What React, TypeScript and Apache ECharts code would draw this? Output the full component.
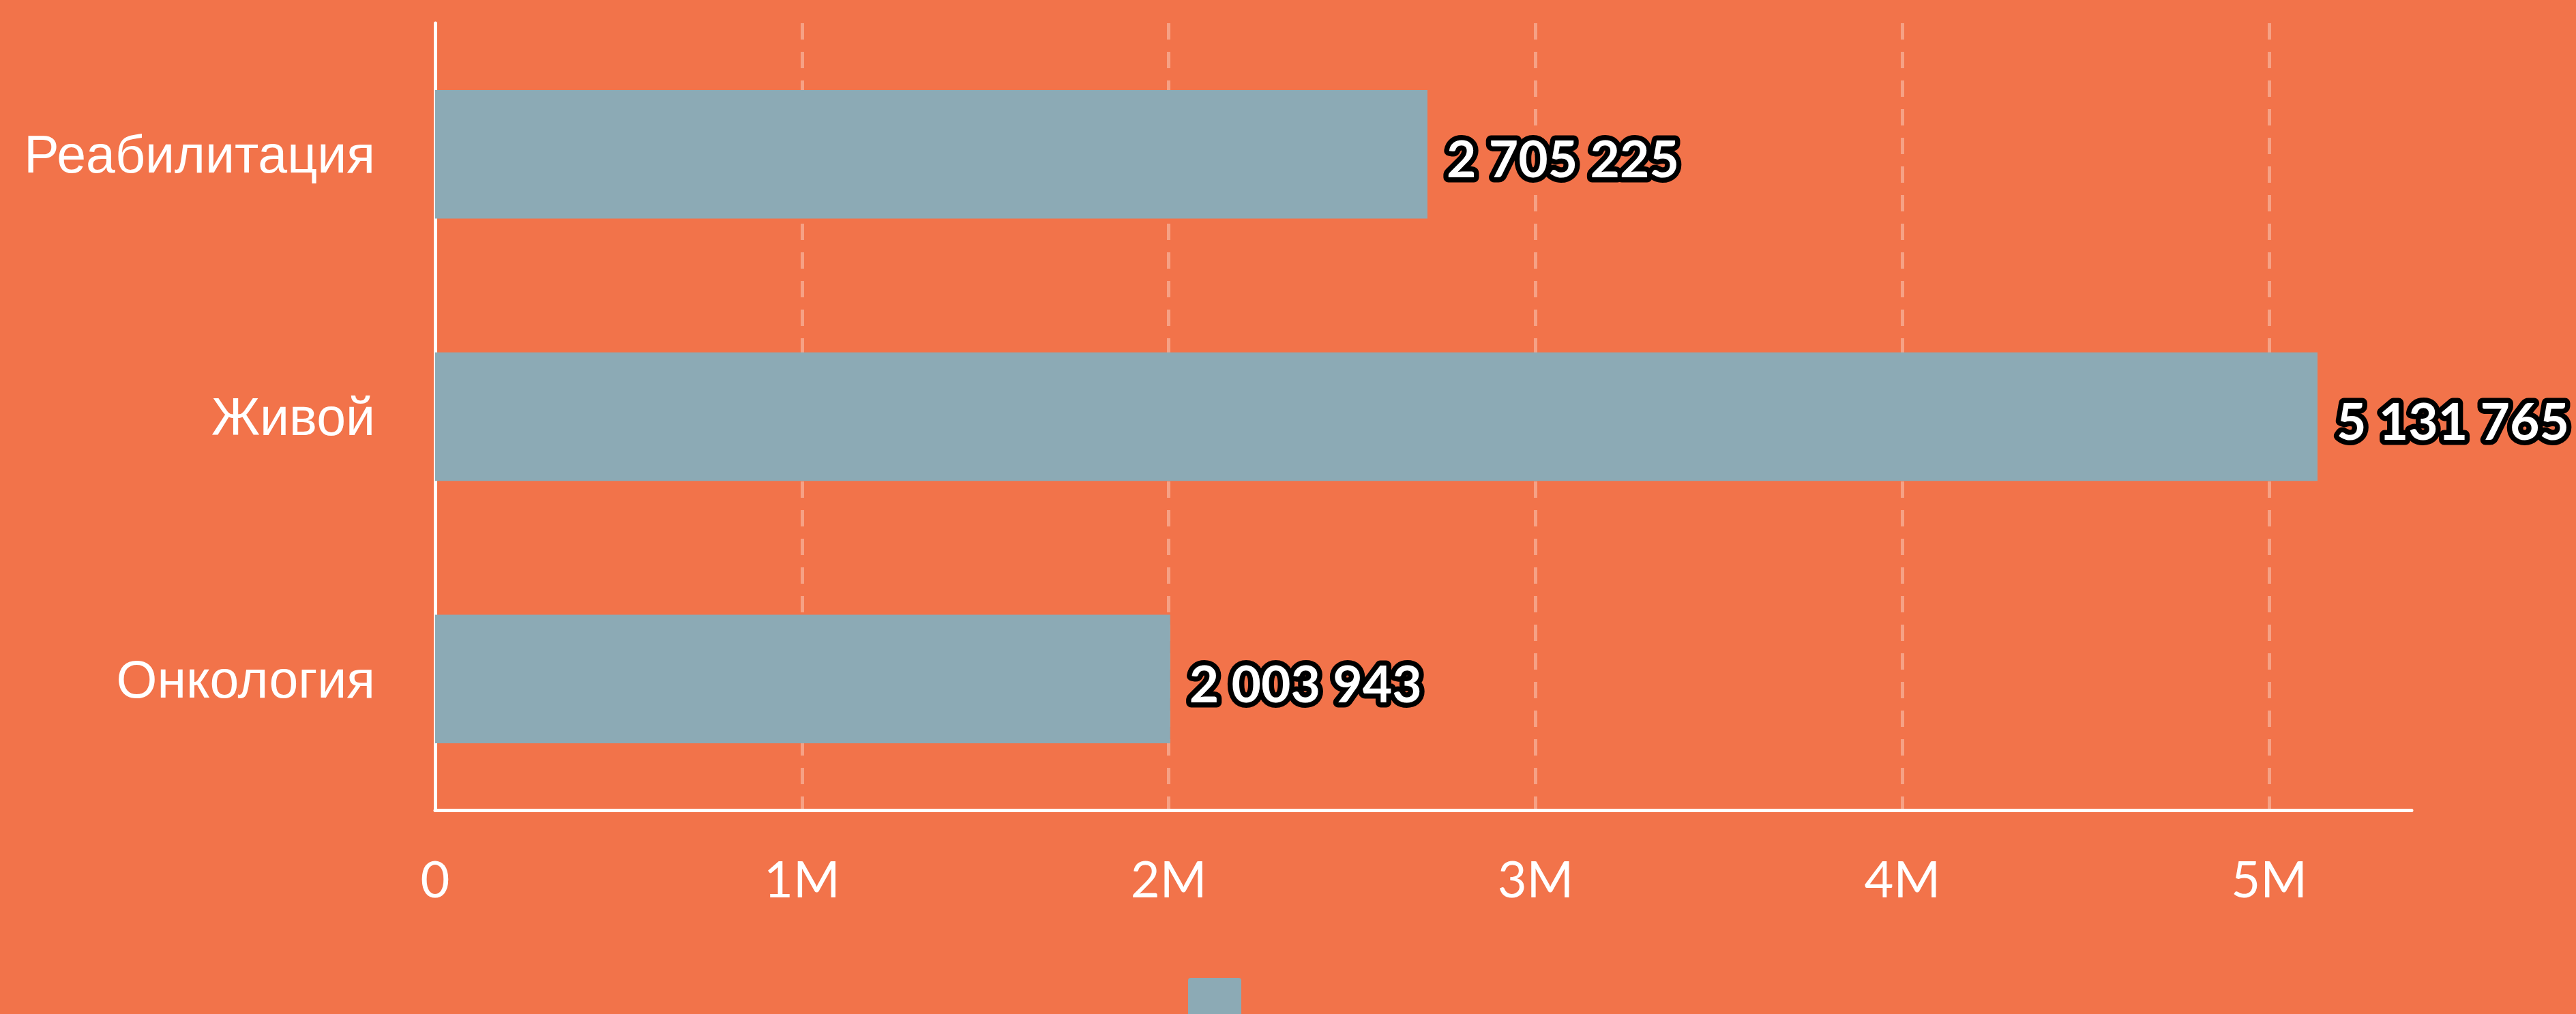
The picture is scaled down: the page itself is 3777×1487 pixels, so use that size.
import React, { useEffect, useRef } from "react";
import * as echarts from "echarts";

const categories = ["Онкология", "Живой", "Реабилитация"];
const values = [2003943, 5131765, 2705225];
const seriesName = "Сумма";

const BG = "#F2734A";
const BAR = "#8CAAB5";

function fmtSpaces(v: number): string {
  return String(Math.round(v)).replace(/\B(?=(\d{3})+(?!\d))/g, " ");
}

export default function App() {
  const ref = useRef<HTMLDivElement>(null);
  useEffect(() => {
    if (!ref.current) return;
    const chart = echarts.init(ref.current, undefined, { renderer: "svg" });
    chart.setOption({
      animation: false,
      backgroundColor: BG,
      grid: { left: 638, right: 241, top: 34, bottom: 299, containLabel: false },
      legend: {
        left: 1737,
        top: 1429,
        itemWidth: 78,
        itemHeight: 80,
        icon: "path://M4,0 H74 A4,4 0 0 1 78,4 V80 H0 V4 A4,4 0 0 1 4,0 Z",
        formatter: () => "",
        data: [seriesName],
      },
      xAxis: {
        type: "value",
        min: 0,
        max: (v: any) => v.max * 1.05,
        interval: 1000000,
        axisLine: { show: true, lineStyle: { color: "#ffffff", width: 5 } },
        axisTick: { show: false },
        splitLine: {
          show: true,
          showMaxLine: false,
          showMinLine: false,
          lineStyle: { color: "rgba(255,255,255,0.33)", width: 5, type: [24, 18] },
        },
        axisLabel: {
          color: "#ffffff",
          fontFamily: "Lato",
          fontSize: 74,
          margin: 62,
          showMaxLabel: false,
          formatter: (v: number) => (v === 0 ? "0" : v / 1000000 + "M"),
        },
      },
      yAxis: {
        type: "category",
        data: categories,
        axisLine: { show: true, lineStyle: { color: "#ffffff", width: 5 } },
        axisTick: { show: false },
        splitLine: { show: false },
        axisLabel: {
          color: "#ffffff",
          fontFamily: "'Liberation Sans', Arial, sans-serif",
          fontSize: 77,
          margin: 88,
        },
      },
      series: [
        {
          name: seriesName,
          type: "bar",
          data: values,
          barCategoryGap: "51%",
          itemStyle: { color: BAR },
          label: {
            show: true,
            position: "right",
            distance: 28,
            offset: [0, 5],
            color: "#ffffff",
            fontFamily: "Lato",
            fontWeight: "bold",
            fontSize: 75,
            textBorderColor: "#000000",
            textBorderWidth: 15,
            formatter: (p: any) => fmtSpaces(p.value),
          },
        },
      ],
    });
    return () => chart.dispose();
  }, []);
  return (
    <>
      <style>{"svg text { paint-order: stroke fill; stroke-linejoin: round; }"}</style>
      <div
        ref={ref}
        style={{ position: "fixed", left: 0, top: 0, width: 3777, height: 1487 }}
      />
    </>
  );
}
